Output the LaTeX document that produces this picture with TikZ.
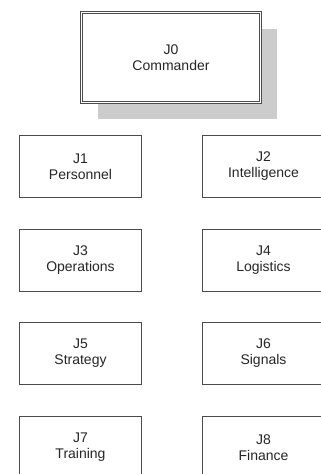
\documentclass[tikz,border=0pt]{standalone}
\usepackage{fontspec}
\setmainfont{Liberation Sans}
\usepackage{tikz}
\usetikzlibrary{shadows}

\tikzset{
  staffbox/.style={draw=black!70,line width=1pt,fill=white,minimum width=122pt,
    minimum height=62pt,inner sep=0pt,align=center,text=black!85,
    font=\fontsize{14}{16}\selectfont},
  headbox/.style={draw=black!70,line width=0.8pt,double=white,double distance=1.4pt,
    fill=white,minimum width=179pt,minimum height=90pt,inner sep=0pt,align=center,
    text=black!85,font=\fontsize{14}{16}\selectfont,
    drop shadow={shadow xshift=16pt,shadow yshift=-16pt,fill=black!20,opacity=1}}
}

\begin{document}
\begin{tikzpicture}[x=1pt,y=-1pt]
		\useasboundingbox (0,0) rectangle (321,474);
		\node (j0) at (171,57.5) [headbox] {J0\\Commander};
		\node (j1) at (80.5,166.5) [staffbox] {J1\\Personnel};
		\node (j2) at (263.5,166.5) [staffbox] {J2\\Intelligence};
		\node (j3) at (80.5,260) [staffbox] {J3\\Operations};
		\node (j4) at (263.5,260) [staffbox] {J4\\Logistics};
		\node (j5) at (80.5,353.5) [staffbox] {J5\\Strategy};
		\node (j6) at (263.5,353.5) [staffbox] {J6\\Signals};
		\node (j7) at (80.5,447.5) [staffbox] {J7\\Training};
		\node (j8) at (263.5,447.5) [staffbox] {J8\\Finance};
\end{tikzpicture}
\end{document}
